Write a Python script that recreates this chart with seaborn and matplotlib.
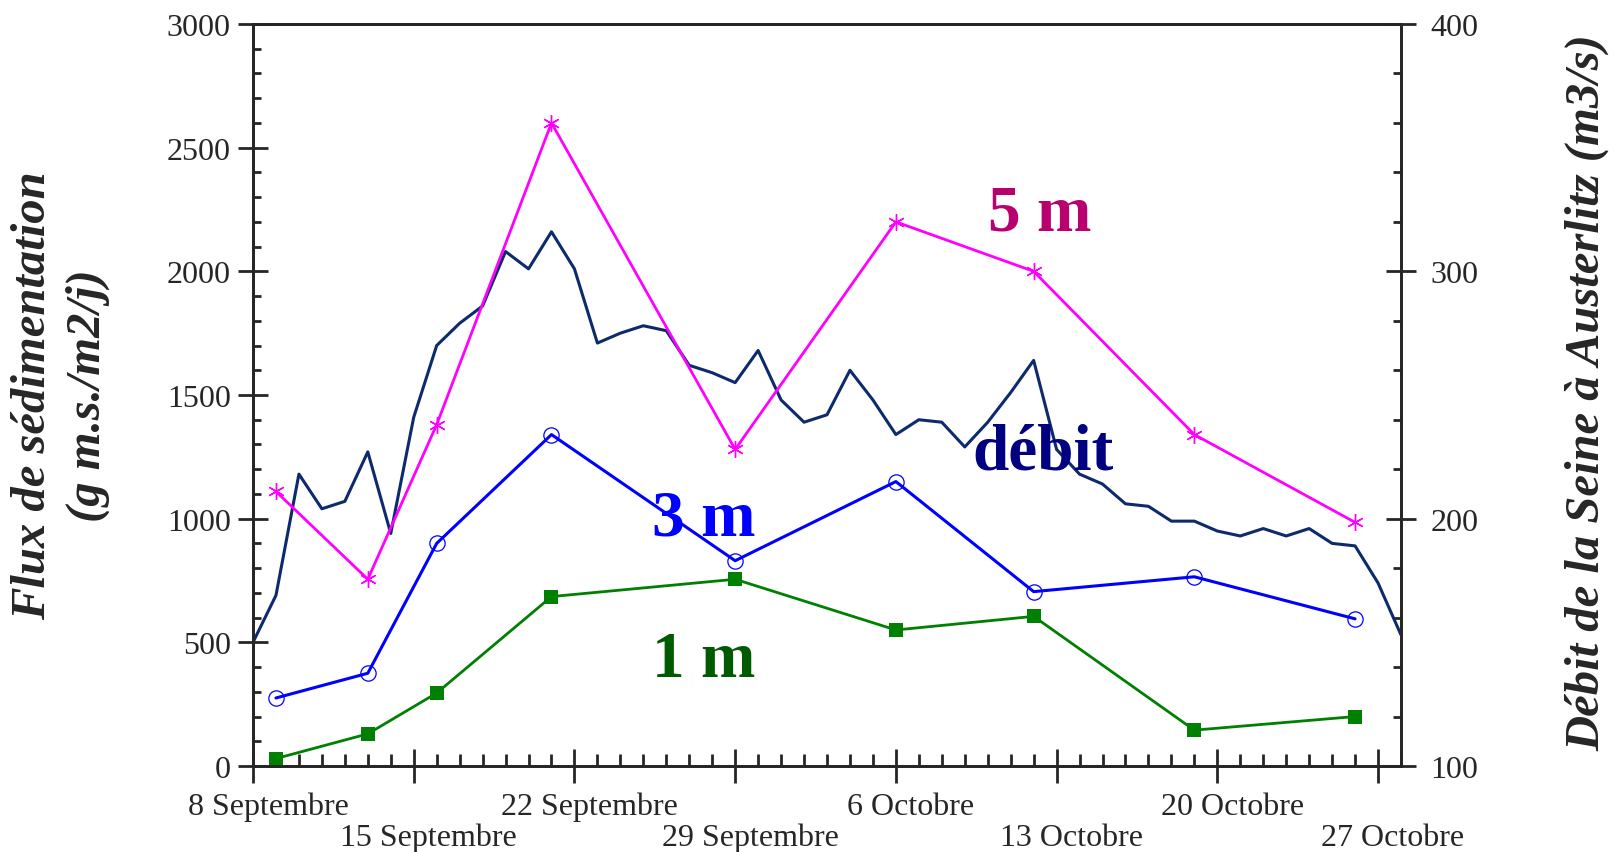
import numpy as np
import pandas as pd
import matplotlib
matplotlib.use("Agg")
import matplotlib.pyplot as plt
import matplotlib.dates as mdates
import matplotlib.transforms as mtransforms
from matplotlib.ticker import MultipleLocator, FixedLocator
import seaborn as sns

# --- data -------------------------------------------------------------
start = pd.Timestamp("1999-09-08")

# sediment-trap sampling dates
sample_dates = pd.to_datetime([
    "1999-09-09", "1999-09-13", "1999-09-16", "1999-09-21", "1999-09-29",
    "1999-10-06", "1999-10-12", "1999-10-19", "1999-10-26",
])
flux_1m = [30, 130, 295, 685, 755, 550, 605, 145, 200]
flux_3m = [275, 375, 900, 1340, 830, 1150, 705, 765, 595]
flux_5m = [1110, 755, 1380, 2600, 1280, 2200, 2000, 1340, 985]

# daily discharge of the Seine at Austerlitz (m3/s), 8 Sept -> 28 Oct
debit_dates = pd.date_range("1999-09-08", "1999-10-28", freq="D")
debit = [150, 169, 218, 204, 207, 227, 194, 241, 270, 279,
         286, 308, 301, 316, 301, 271, 275, 278, 276, 262,
         259, 255, 268, 248, 239, 242, 260, 248, 234, 240,
         239, 229, 239, 251, 264, 228, 218, 214, 206, 205,
         199, 199, 195, 193, 196, 193, 196, 190, 189, 174,
         153]

week_labels = ["8 Septembre", "15 Septembre", "22 Septembre", "29 Septembre",
               "6 Octobre", "13 Octobre", "20 Octobre", "27 Octobre"]

# --- style ------------------------------------------------------------
sns.set_style("ticks")
plt.rcParams["font.family"] = ["Liberation Serif", "DejaVu Serif"]
plt.rcParams["axes.linewidth"] = 2.0

W, H, DPI = 1619, 853, 100
fig = plt.figure(figsize=(W / DPI, H / DPI), dpi=DPI)
x0, x1, ytop, ybot = 253, 1401, 25, 767
ax = fig.add_axes([x0 / W, 1 - ybot / H, (x1 - x0) / W, (ybot - ytop) / H])
ax2 = ax.twinx()

navy = "#0c2a6c"
blue = "#0000ff"
magenta = "#ff00ff"
green = "#008000"

# discharge on the right axis
sns.lineplot(x=debit_dates, y=debit, ax=ax2, color=navy, lw=2.2)

# sedimentation fluxes on the left axis
sns.lineplot(x=sample_dates, y=flux_1m, ax=ax, color=green, lw=2.0,
             marker="s", markersize=10.5, markerfacecolor=green,
             markeredgecolor=green, markeredgewidth=0)
sns.lineplot(x=sample_dates, y=flux_3m, ax=ax, color=blue, lw=2.2,
             marker="o", markersize=11, markerfacecolor="none",
             markeredgecolor=blue, markeredgewidth=0.9)
sns.lineplot(x=sample_dates, y=flux_5m, ax=ax, color=magenta, lw=2.0,
             marker=(6, 2, 0), markersize=12, markerfacecolor=magenta,
             markeredgecolor=magenta, markeredgewidth=1.0)

ax.set_zorder(ax2.get_zorder() + 1)
ax.patch.set_visible(False)

# --- axes -------------------------------------------------------------
xmin = mdates.date2num(start)
xmax = mdates.date2num(start + pd.Timedelta(days=50))
ax.set_xlim(xmin, xmax)
ax.set_ylim(0, 3000)
ax2.set_ylim(100, 400)

week_pos = [xmin + 7 * i for i in range(len(week_labels))]
labels = [lab if i % 2 == 0 else "\n" + lab for i, lab in enumerate(week_labels)]
ax.xaxis.set_major_locator(FixedLocator(week_pos))
ax.xaxis.set_minor_locator(FixedLocator(np.arange(xmin, xmax + 0.5, 1.0)))
ax.set_xticklabels(labels)
ax.set_xlabel("")
ax.set_ylabel("")
ax2.set_ylabel("")

ax.yaxis.set_major_locator(MultipleLocator(500))
ax.yaxis.set_minor_locator(MultipleLocator(100))
ax2.yaxis.set_major_locator(MultipleLocator(100))
ax2.yaxis.set_minor_locator(MultipleLocator(20))

ax.tick_params(axis="x", which="major", direction="inout", length=25, width=2,
               labelsize=23, pad=6)
ax.tick_params(axis="x", which="minor", direction="in", length=8.5, width=2)
ax.tick_params(axis="y", which="major", direction="inout", length=22, width=2,
               labelsize=23, pad=5)
ax.tick_params(axis="y", which="minor", direction="in", length=5.5, width=2)
ax2.tick_params(axis="y", which="major", direction="inout", length=22, width=2,
                labelsize=23, pad=10)
ax2.tick_params(axis="y", which="minor", direction="in", length=5.5, width=2)
ax.tick_params(top=False, which="both")
ax2.tick_params(left=False, which="both")
ax2.xaxis.set_visible(False)

for a in (ax, ax2):
    for s in a.spines.values():
        s.set_visible(True)
        s.set_linewidth(2.0)

shift = mtransforms.ScaledTranslation(15 / DPI, 0, fig.dpi_scale_trans)
for lab in ax.get_xticklabels():
    lab.set_transform(lab.get_transform() + shift)
    lab.set_linespacing(1.1)

# axis titles
title_kw = dict(rotation=90, ha="center", va="center", fontsize=35,
                fontweight="bold", fontstyle="italic")
fig.text(33 / W, 1 - 396 / H, "Flux de sédimentation", **title_kw)
fig.text(88 / W, 1 - 396 / H, "(g m.s./m2/j)", **title_kw)
fig.text(1587 / W, 1 - 393 / H, "Débit de la Seine à Austerlitz (m3/s)", **title_kw)

# series names
txt = dict(transform=ax.transAxes, ha="center", va="center",
           fontsize=47, fontweight="bold")
ax.text(0.6855, 0.745, "5 m", color="#b8006e", **txt)
ax.text(0.393, 0.334, "3 m", color=blue, **txt)
ax.text(0.393, 0.143, "1 m", color="#005a00", **txt)
ax.text(0.688, 0.422, "débit", color="#000080", **txt)

fig.savefig("out.png", dpi=DPI, facecolor="white")
